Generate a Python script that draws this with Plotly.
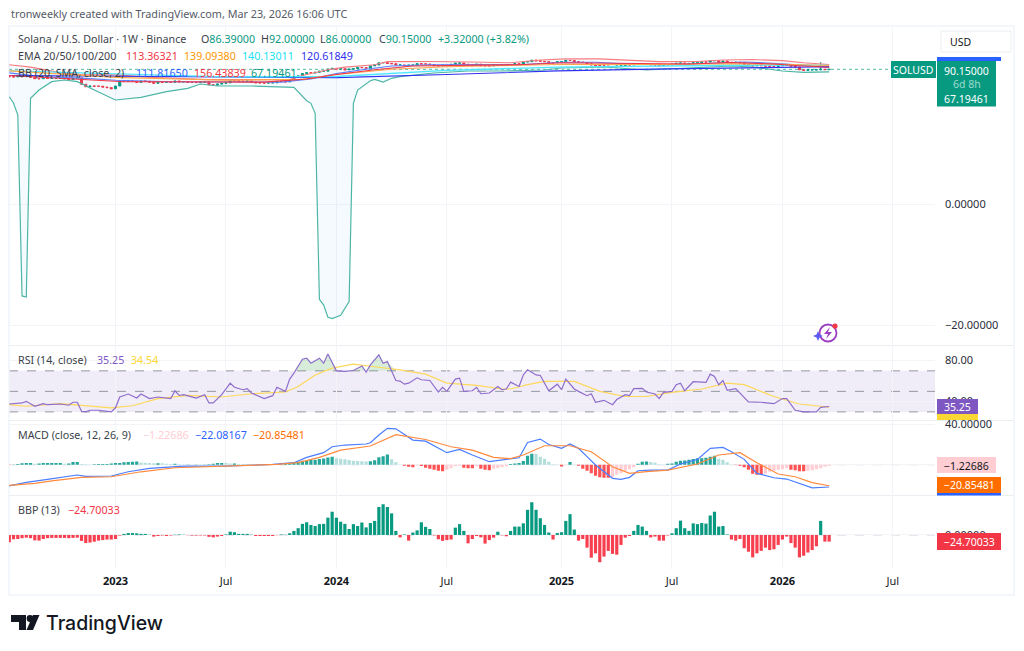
import numpy as np
import pandas as pd
import plotly.graph_objects as go

# ---- weekly closes of SOLUSD, ten per row, first week 2022-07-11
closes = [
    39, 38, 42, 39, 43, 36, 31, 31, 35, 32,
    33, 33, 33, 31, 28, 33, 34, 16.5, 12.5, 13.5,
    13.3, 13.2, 12, 11.3, 9.9, 13.5, 24, 23.5, 24, 23,
    20.5, 24, 23, 21, 18.5, 21, 20.5, 21, 20.5, 24,
    21.5, 22, 20.5, 20.5, 20, 21, 21, 15.5, 15, 16.8,
    18.5, 19.5, 25, 24.5, 23.5, 22.8, 24, 21, 19.5, 19.3,
    19, 19.5, 19.5, 23, 22.5, 21.5, 28, 35, 43, 56,
    61, 59, 64, 73, 73, 93, 100, 92, 96, 85,
    92, 97, 112, 109, 102, 133, 147, 188, 193, 175,
    170, 147, 148, 133, 145, 145, 170, 165, 165, 155,
    135, 133, 145, 135, 160, 180, 185, 160, 150, 145,
    160, 135, 135, 133, 140, 155, 140, 146, 155, 170,
    165, 205, 215, 255, 235, 225, 215, 190, 190, 215,
    218, 250, 245, 215, 205, 195, 170, 147, 140, 135,
    130, 125, 120, 130, 135, 150, 148, 170, 170, 160,
    155, 150, 145, 135, 152, 150, 162, 178, 185, 165,
    175, 190, 190, 210, 205, 240, 240, 195, 230, 200,
    190, 200, 185, 155, 140, 132, 140, 135, 130, 125,
    125, 135, 143, 145, 127, 115, 85, 80, 85, 85,
    85, 90, 86.83, 90.15,
]
first_open = 40
last_open = 86.39
wick_weeks = [191, 193]
wick_highs = [205, 92]

upper_weeks = [0, 5, 12, 17, 25, 33, 47, 60, 66, 69, 75, 79, 86, 89, 99, 109, 118, 125, 131, 139, 145, 153, 162, 168, 175, 182, 187, 193]
upper_vals = [150, 115, 62, 50, 48, 36, 28, 27, 28, 45, 85, 115, 150, 215, 220, 205, 190, 260, 295, 295, 250, 215, 220, 260, 275, 240, 190, 156.44]
basis_weeks = [0, 8, 17, 25, 38, 51, 64, 71, 77, 83, 90, 99, 112, 121, 130, 138, 147, 156, 165, 173, 182, 187, 193]
basis_vals = [60, 38, 33, 26, 22, 21, 21, 30, 55, 85, 130, 150, 150, 155, 200, 200, 160, 155, 180, 205, 170, 140, 111.82]
lower_weeks = [0, 1, 2, 3, 4, 5, 7, 10, 13, 16, 20, 25, 31, 37, 42, 45, 49, 57, 67, 70, 71, 72, 73, 74, 75, 76, 78, 80, 81, 82, 85, 86, 88, 90, 92, 100, 108, 116, 126, 130, 140, 150, 160, 170, 175, 182, 187, 193]
lower_exps = [0.605, 0.28, -0.3, -9.21, -9.26, 0.526, 0.935, 1.344, 1.428, 1.344, 0.935, 0.443, 0.576, 0.852, 1.019, 1.231, 1.132, 1.132, 1.068, 0.408, 0.28, -0.213, -9.375, -9.66, -10.26, -10.33, -10.16, -9.49, 0.28, 0.935, 1.393, 1.462, 1.329, 1.511, 1.59, 1.773, 1.871, 1.871, 1.92, 2.02, 2.068, 1.92, 2.02, 2.118, 2.068, 1.871, 1.8, 1.827]

ema20_weeks = [0, 8, 17, 22, 27, 40, 60, 70, 77, 86, 95, 110, 120, 130, 140, 150, 160, 170, 180, 186, 193]
ema20_vals = [45, 36, 30, 24, 22, 22, 21, 30, 50, 85, 130, 145, 150, 190, 180, 160, 165, 195, 165, 135, 113.36]
ema50_weeks = [0, 17, 25, 51, 69, 77, 90, 103, 129, 142, 155, 168, 182, 193]
ema50_vals = [75, 48, 36, 26, 29, 50, 90, 120, 155, 155, 155, 170, 160, 139.09]
ema100_weeks = [0, 25, 51, 77, 103, 129, 155, 182, 193]
ema100_vals = [75, 52, 38, 40, 80, 115, 135, 150, 140.13]
ema200_weeks = [0, 25, 51, 77, 103, 129, 155, 182, 193]
ema200_vals = [45, 42, 38, 35, 50, 75, 95, 115, 120.62]

rsi_weeks = [0, 2, 3, 4, 6, 8, 9, 12, 14, 15, 16, 17, 18, 19, 21, 24, 25, 26, 28, 30, 31, 33, 35, 38, 39, 40, 41, 44, 46, 47, 48, 50, 52, 53, 55, 56, 57, 60, 62, 63, 65, 66, 67, 69, 70, 71, 73, 74, 75, 77, 79, 81, 83, 84, 85, 87, 88, 89, 91, 92, 93, 94, 96, 97, 99, 101, 102, 103, 105, 106, 107, 109, 110, 111, 113, 115, 116, 117, 118, 120, 121, 122, 124, 125, 127, 129, 130, 131, 133, 134, 136, 137, 138, 140, 142, 143, 145, 146, 147, 149, 150, 152, 153, 154, 156, 157, 158, 159, 161, 164, 165, 166, 167, 168, 169, 171, 174, 177, 180, 182, 183, 185, 187, 190, 191, 193]
rsi_vals = [37.7, 38.7, 38.7, 40.3, 35.5, 38, 37, 37.7, 36.5, 39.4, 39.4, 30.6, 30, 31.6, 31.6, 30, 34, 44.5, 47.4, 43.5, 47.4, 43, 44.5, 43, 50.6, 46, 46.8, 43.5, 46.8, 38.7, 38.7, 46.8, 58, 54, 51.6, 52.6, 48.4, 43, 45.8, 54, 50, 62, 67.7, 81.3, 82.3, 77.4, 82.3, 77.4, 86.5, 70, 69.4, 70.3, 74.8, 68.7, 75.8, 85.5, 77.4, 79, 60.6, 60, 57, 58, 63.2, 61.3, 60.6, 49.4, 54, 50, 62, 62.9, 50, 50.6, 54, 47.7, 48.4, 54.8, 51.6, 52.3, 59, 54.8, 66, 71, 66, 65.5, 50.6, 57, 51.6, 62, 52.3, 50, 45.8, 47.7, 39.4, 41.3, 37, 42, 46.8, 45.8, 52.6, 53, 49.4, 47.4, 43, 49, 50, 56.5, 58, 50.6, 59.4, 58.7, 66.8, 64.5, 56.5, 60.6, 51, 52.6, 39.7, 39.4, 38, 43, 43, 31.6, 30, 30, 34.5, 35.25]
rsima_weeks = [0, 4, 12, 17, 24, 29, 35, 42, 50, 57, 65, 68, 72, 76, 81, 86, 92, 98, 103, 110, 116, 118, 122, 126, 133, 139, 145, 150, 156, 163, 169, 173, 180, 186, 193]
rsima_vals = [37, 35.5, 38, 36.5, 33.9, 36, 43, 46, 44.5, 47.7, 49.4, 54.8, 66, 72.6, 76.5, 74, 71, 66.8, 58, 55.8, 52.3, 52.3, 56.5, 59.7, 59.7, 50, 45, 45, 49, 52.3, 58, 56.5, 45, 37.7, 34.54]

macd_weeks = [0, 4, 9, 16, 18, 24, 28, 33, 41, 51, 62, 67, 70, 74, 76, 79, 84, 85, 87, 89, 91, 95, 98, 103, 106, 109, 113, 116, 118, 120, 122, 125, 127, 130, 132, 134, 136, 138, 142, 144, 146, 148, 151, 155, 158, 162, 165, 168, 170, 173, 176, 180, 183, 187, 189, 193]
macd_vals = [-21, -17.5, -14.5, -10.2, -11.5, -11.2, -7, -3.6, -1.3, -1.3, 0.3, 2, 7.3, 11.9, 17.8, 19.5, 20.5, 21.8, 29.4, 36, 35.6, 24.4, 23.4, 11.9, 15.2, 9.6, 3, 4.6, 6.3, 6.9, 22, 25.4, 20, 16.2, 20.5, 16.2, 8, -0.3, -13.5, -14.5, -12.5, -6, -5.3, -5.3, 0.7, 5.3, 16.2, 17.2, 12.9, 5.3, -8.6, -12.9, -14.2, -20, -23, -22.08]
signal_weeks = [0, 6, 10, 17, 24, 31, 39, 51, 63, 68, 73, 78, 85, 91, 98, 104, 109, 114, 118, 121, 126, 132, 137, 142, 146, 150, 155, 162, 167, 172, 176, 181, 185, 189, 193]
signal_vals = [-20.5, -18.5, -16, -12.5, -11.9, -7, -3, -1.3, 0.3, 2, 7.3, 14.5, 18.5, 29.7, 25, 17.8, 14.5, 7.3, 6, 9.6, 18.8, 18.8, 12.9, -2, -8.6, -6.9, -5.3, 0.7, 9.6, 11.9, 2, -9.2, -11.9, -17.8, -20.85]
hist_vals = [
    -0.3, 0.2, 0.6, 1.4, 1.6, 1.6, 1, 1.3, 1.6, 1.6,
    1.6, 1.6, 1.6, 1, 1.1, 2.6, 2.6, 0.6, 0.4, 0.2,
    0.5, 0.6, 0.6, 0.8, 1.2, 1.6, 1.6, 2.5, 2.7, 3,
    3.1, 2.2, 2, 1.6, 1.5, 1.5, 1.4, 1, 0.8, 0.9,
    0.5, 0.3, 0.3, 0.1, 0.2, 0.1, 0.3, 0.4, 1, 1.6,
    1.7, 1.6, 1.2, 1.3, 0.8, 0.6, 0.4, 0.3, -0.1, 0.1,
    0.2, 0.2, 0.1, 0.3, 0.5, 0.8, 1.2, 2.3, 3, 4,
    4, 4.6, 5, 5.6, 6.2, 7.2, 8, 6.5, 6, 5.4,
    4.7, 4, 3.6, 3.4, 3.2, 3.4, 4.5, 7.5, 8.5, 10,
    5.5, 2.5, 0.3, -1, -2, -2.6, -0.8, -1.2, -3, -4,
    -5, -6, -6.5, -5, -3.5, -1.5, -1, -3, -3.5, -3.5,
    -1.5, -4, -5, -5.5, -4, -3.5, -2.5, -1.5, 0.8, 1.2,
    1.8, 3.7, 9, 10.8, 10.5, 8, 6, 3, 0.5, 0.2,
    -1.8, -0.5, 2.6, 0.3, -1, -4, -6, -8.5, -11, -12.5,
    -13, -13, -12.5, -10, -8.5, -6, -4.5, -2.5, 1, 3,
    3.2, 2.6, 2, 0.5, 0.3, 1, 1.3, 3, 4, 4.2,
    5, 5.6, 6.3, 6.3, 6.8, 8, 8.8, 6, 5, 2.5,
    0.3, -0.3, -1, -2.5, -5, -9, -10, -10, -9, -7,
    -6, -5, -4.5, -3.5, -5, -5.5, -6.5, -6.5, -6, -5.5,
    -4.5, -3.5, -2, -1.23,
]
bbp_vals = [
    -27, -16, -15, -12, -10, -12, -20, -21, -15, -12,
    -11, -11, -11, -11, -12, -11, -10, -22, -30, -28,
    -25, -21, -19, -17, -17, -15, -2, 4, 7, 7,
    6, 4, 4, 1, -6, -4, -2, -4, -2, 1,
    2, 1, -1, -2, -2, -2, -2, -7, -9, -6,
    -4, 2, 12, 10, 4, 4, 4, 1, -4, -4,
    -4, -4, -4, -1, 2, 1, 6, 15, 25, 41,
    47, 37, 33, 40, 41, 64, 86, 64, 49, 41,
    22, 40, 33, 46, 28, 44, 52, 103, 114, 103,
    80, 15, -9, 2, -21, 9, 17, 47, 30, 22,
    -2, -16, -22, -19, -17, 27, 40, 15, -31, -15,
    -4, -9, -32, -19, -10, 12, -1, -5, 15, 31,
    31, 43, 93, 121, 93, 62, 37, 9, -17, 7,
    10, 52, 77, 20, -21, -15, -47, -84, -68, -101,
    -80, -59, -70, -73, -37, -10, -4, 15, 37, 31,
    15, -9, -6, -21, -21, -2, 6, 25, 53, 25,
    15, 43, 40, 44, 42, 72, 86, 31, 33, 2,
    -17, -21, -15, -49, -62, -83, -68, -59, -47, -56,
    -53, -37, -17, -6, -30, -47, -83, -77, -65, -56,
    -42, 52, -24.7, -24.7,
]

tick_dates = ["2023-01-02", "2023-07-03", "2024-01-01", "2024-07-01", "2025-01-06", "2025-07-07", "2026-01-05", "2026-07-06"]
tick_labels = ["<b>2023</b>", "Jul", "<b>2024</b>", "Jul", "<b>2025</b>", "Jul", "<b>2026</b>", "Jul"]

W, H = 1024, 651
UP, DOWN = "#089981", "#F23645"
GRID = "#f3f4f8"
TXT = "#3b3f4a"
FONT = "Noto Sans"

def X(p): return p / W
def Y(p): return 1 - p / H

dates = pd.date_range("2022-07-11", periods=len(closes), freq="7D")
at = lambda weeks: [dates[i] for i in weeks]
opens = [first_open] + closes[:-1]
opens[-1] = last_open
highs = [max(o, c) for o, c in zip(opens, closes)]
lows = [min(o, c) for o, c in zip(opens, closes)]
for w, h in zip(wick_weeks, wick_highs):
    highs[w] = h

fig = go.Figure()

def line(weeks, vals, color, ya, xa, width=1.1, **kw):
    fig.add_trace(go.Scatter(x=at(weeks), y=vals, mode="lines", line=dict(color=color, width=width),
                             xaxis=xa, yaxis=ya, hoverinfo="skip", showlegend=False, **kw))

# price pane
line(upper_weeks, upper_vals, "#F77C80", "y", "x")
line(lower_weeks, [10 ** e for e in lower_exps], "#4DB6A6", "y", "x", width=1.2, fill="tonexty", fillcolor="rgba(33,150,243,0.05)")
line(basis_weeks, basis_vals, "#5B7FFF", "y", "x")
line(ema200_weeks, ema200_vals, "#3030F0", "y", "x")
line(ema100_weeks, ema100_vals, "#4DE8FF", "y", "x", width=1.4)
line(ema50_weeks, ema50_vals, "#FFA94D", "y", "x")
line(ema20_weeks, ema20_vals, "#F23645", "y", "x")
fig.add_trace(go.Candlestick(x=dates, open=opens, high=highs, low=lows, close=closes, xaxis="x", yaxis="y",
                             increasing=dict(line=dict(color=UP, width=1), fillcolor=UP),
                             decreasing=dict(line=dict(color=DOWN, width=1), fillcolor=DOWN),
                             hoverinfo="skip", showlegend=False, whiskerwidth=0))

# RSI pane
over = [max(v, 70) for v in rsi_vals]
line(rsi_weeks, [70] * len(rsi_weeks), "rgba(0,0,0,0)", "y2", "x2", width=0)
line(rsi_weeks, over, "rgba(0,0,0,0)", "y2", "x2", width=0, fill="tonexty", fillcolor="rgba(76,175,80,0.22)")
line(rsima_weeks, rsima_vals, "#FDD85A", "y2", "x2", width=1.2)
line(rsi_weeks, rsi_vals, "#8E6CCB", "y2", "x2", width=1.2)

# MACD pane
colors = []
for i, v in enumerate(hist_vals):
    prev = hist_vals[i - 1] if i else v
    if v >= 0:
        colors.append("#26A69A" if v >= prev else "#B2DFDB")
    else:
        colors.append("#FF5252" if v <= prev else "#FFCDD2")
fig.add_trace(go.Bar(x=dates, y=hist_vals, marker=dict(color=colors, line_width=0), xaxis="x3", yaxis="y3",
                     hoverinfo="skip", showlegend=False))
line(macd_weeks, macd_vals, "#4A7DFF", "y3", "x3", width=1.2)
line(signal_weeks, signal_vals, "#FF8A3D", "y3", "x3", width=1.2)

# BBP pane
fig.add_trace(go.Bar(x=dates, y=bbp_vals, marker=dict(color=[UP if v >= 0 else "#F7404F" for v in bbp_vals], line_width=0),
                     xaxis="x4", yaxis="y4", hoverinfo="skip", showlegend=False))

x_left = pd.Timestamp("2023-01-02") - pd.Timedelta(weeks=(115.5 - 9) / 4.248)
x_right = pd.Timestamp("2023-01-02") + pd.Timedelta(weeks=(935 - 115.5) / 4.248)
common_x = dict(type="date", range=[x_left, x_right], tickmode="array", tickvals=tick_dates, ticktext=tick_labels,
                gridcolor=GRID, gridwidth=1, showline=False, zeroline=False, ticks="", fixedrange=True,
                domain=[X(9), X(935)], tickfont=dict(family=FONT, size=11, color="#131722"))
common_y = dict(side="right", tickmode="array", showline=False, zeroline=False, ticks="", gridcolor=GRID, gridwidth=1,
                fixedrange=True, ticklabelstandoff=9, tickfont=dict(family=FONT, size=11, color="#2a2e39"))

px_per_decade = 20.3
pos_exp = lambda y: np.log10(90.15) - (y - 69.3) / px_per_decade

fig.update_layout(
    width=W, height=H, autosize=False, margin=dict(l=0, r=0, t=0, b=0, autoexpand=False), paper_bgcolor="white", plot_bgcolor="white",
    showlegend=False, barmode="overlay", bargap=0.25,
    xaxis=dict(common_x, anchor="y", showticklabels=False, rangeslider=dict(visible=False)),
    xaxis2=dict(common_x, anchor="y2", showticklabels=False),
    xaxis3=dict(common_x, anchor="y3", showticklabels=False),
    xaxis4=dict(common_x, anchor="y4", showticklabels=True, ticklabelstandoff=4),
    yaxis=dict(common_y, type="log", domain=[Y(345.5), Y(26)], anchor="x", range=[pos_exp(345.5), pos_exp(26)],
               tickvals=[10 ** pos_exp(204), 10 ** pos_exp(325)], ticktext=["0.00000", "\u221220.00000"]),
    yaxis2=dict(common_y, domain=[Y(420), Y(345.5)], anchor="x2", range=[22.1, 94.7], tickvals=[40, 80], ticktext=["40.00", "80.00"]),
    yaxis3=dict(common_y, domain=[Y(495.5), Y(420)], anchor="x3", range=[-30.5, 44.3], tickvals=[0, 40], ticktext=["", "40.00000"]),
    yaxis4=dict(common_y, domain=[Y(569), Y(495.5)], anchor="x4", range=[-126, 146], tickvals=[0], ticktext=["0.00000"]),
)

shapes = []
def rect(x0, y0, x1, y1, fill, line_color=None, lw=0, layer="above"):
    shapes.append(dict(type="rect", xref="paper", yref="paper", x0=X(x0), x1=X(x1), y0=Y(y0), y1=Y(y1), fillcolor=fill,
                       line=dict(color=line_color or fill, width=lw), layer=layer))
def hline(y, yref, color, dash, width=1):
    shapes.append(dict(type="line", xref="paper", yref=yref, x0=X(9), x1=X(935), y0=y, y1=y, layer="below",
                       line=dict(color=color, dash=dash, width=width)))
def poly(path, fill):
    d = "M" + " L".join(f"{X(a):.5f},{Y(b):.5f}" for a, b in path) + " Z"
    shapes.append(dict(type="path", path=d, xref="paper", yref="paper", fillcolor=fill, line=dict(width=0), layer="above"))
def circle(cx, cy, r, fill, line_color=None, lw=0):
    shapes.append(dict(type="circle", xref="paper", yref="paper", x0=X(cx - r), x1=X(cx + r), y0=Y(cy - r), y1=Y(cy + r),
                       fillcolor=fill, line=dict(color=line_color or fill, width=lw), layer="above"))

shapes.append(dict(type="rect", xref="paper", yref="y2", x0=X(9), x1=X(935), y0=30, y1=70, fillcolor="rgba(126,87,194,0.11)", line_width=0, layer="below"))
for lv in (70, 50, 30):
    hline(lv, "y2", "#9598A1", "dash")
hline(0, "y3", "#c9ccd3", "dash")
hline(0, "y4", "#c9ccd3", "dash")
hline(90.15, "y", "#55B9A6", "dot")
shapes[-1]["x1"] = X(936)
# frame and pane separators
rect(9, 26, 1014, 595, "rgba(0,0,0,0)", "#f0f3fa", 1.5, layer="below")
for yy in (345.5, 420.5, 495.5):
    shapes.append(dict(type="line", xref="paper", yref="paper", x0=X(9), x1=X(1014), y0=Y(yy), y1=Y(yy), line=dict(color="#eceef3", width=1.2), layer="below"))

# scale tags
rect(941, 31, 1011, 52, "white", "#eceef3", 1)
rect(891, 61, 936, 78, UP)
rect(937, 57, 1001, 61, "#2962FF")
rect(937, 61, 996, 106.5, UP)
rect(937, 414, 978, 420, "#FDD835")
rect(937, 399, 978, 414, "#7E57C2")
rect(937, 457, 996, 473, "#FFCDD2")
rect(937, 493, 1001, 495.5, "#2962FF")
rect(937, 477, 1001, 493, "#FF6D00")
rect(937, 533, 1001, 550, DOWN)

# assistant mark
circle(828, 333, 8.5, "rgba(0,0,0,0)", "#9C3FC0", 1.8)
poly([(830, 327), (824, 334), (828, 334), (826, 339), (832, 332), (828, 332)], "#9C3FC0")
circle(835, 326, 2.6, "#F23645")
poly([(818, 331), (819.5, 334.5), (823, 336), (819.5, 337.5), (818, 341), (816.5, 337.5), (813, 336), (816.5, 334.5)], "#5B5BF5")

# TradingView logo
poly([(11, 615), (26, 615), (26, 630), (19, 630), (19, 622), (11, 622)], "#131722")
circle(30, 618.5, 3.4, "#131722")
poly([(33, 615), (39.5, 615), (33, 630), (26.5, 630)], "#131722")
fig.update_layout(shapes=shapes)

ann = []
def note(x, y, text, color=TXT, size=10.7, anchor="left", family=FONT, weight=None):
    f = dict(family=family, size=size, color=color)
    if weight:
        f["weight"] = weight
    ann.append(dict(xref="paper", yref="paper", x=X(x), y=Y(y), text=text, showarrow=False, xanchor=anchor, yanchor="middle",
                    font=f, borderpad=0))

note(10, 14, "tronweekly created with TradingView.com, Mar 23, 2026 16:06 UTC", "#555a66", 10.8)
note(17, 39.5, "Solana / U.S. Dollar \u00b7 1W \u00b7 Binance")
green = "#089981"
for x, lab, val in [(200, "O", "86.39000"), (260, "H", "92.00000"), (319, "L", "86.00000"), (378, "C", "90.15000")]:
    note(x, 39.5, f'{lab}<span style="color:{green}">{val}</span>')
note(437, 39.5, "+3.32000 (+3.82%)", green)
note(17, 56, "EMA 20/50/100/200")
note(125, 56, "113.36321", "#F23645")
note(183, 56, "139.09380", "#FF9800")
note(241, 56, "140.13011", "#19E3F5")
note(300, 56, "120.61849", "#3030F0")
note(17, 73, "BB (20, SMA, close, 2)")
note(135, 73, "111.81650", "#2962FF")
note(193, 73, "156.43839", "#F23645")
note(250, 73, "67.19461", green)
note(17, 360, "RSI (14, close)")
note(96, 360, "35.25", "#7E57C2")
note(130, 360, "34.54", "#FDD835")
note(17, 435, "MACD (close, 12, 26, 9)")
note(142, 435, "\u22121.22686", "#FFCDD2")
note(194, 435, "\u221222.08167", "#2962FF")
note(252, 435, "\u221220.85481", "#FF6D00")
note(17, 510, "BBP (13)")
note(67, 510, "\u221224.70033", "#F23645")

note(949, 41.5, "USD", "#131722", 10.5)
note(913.5, 69.5, "SOLUSD", "white", 10.5, "center")
note(966.5, 70.5, "90.15000", "white", 10.5, "center")
note(966.5, 84, "6d 8h", "#9fdccf", 10.5, "center")
note(966.5, 99, "67.19461", "white", 10.5, "center")
note(957.5, 407, "35.25", "white", 10.5, "center")
note(966.5, 465.5, "\u22121.22686", "#131722", 10.5, "center")
note(969, 485, "\u221220.85481", "white", 10.5, "center")
note(969, 542, "\u221224.70033", "white", 10.5, "center")
note(45, 623, "TradingView", "#131722", 19.5, family="Inter", weight=500)
fig.update_layout(annotations=ann)

fig.write_html("out.html", config=dict(displayModeBar=False, staticPlot=True),
               post_script="document.body.style.margin='0';document.body.style.overflow='hidden';")
